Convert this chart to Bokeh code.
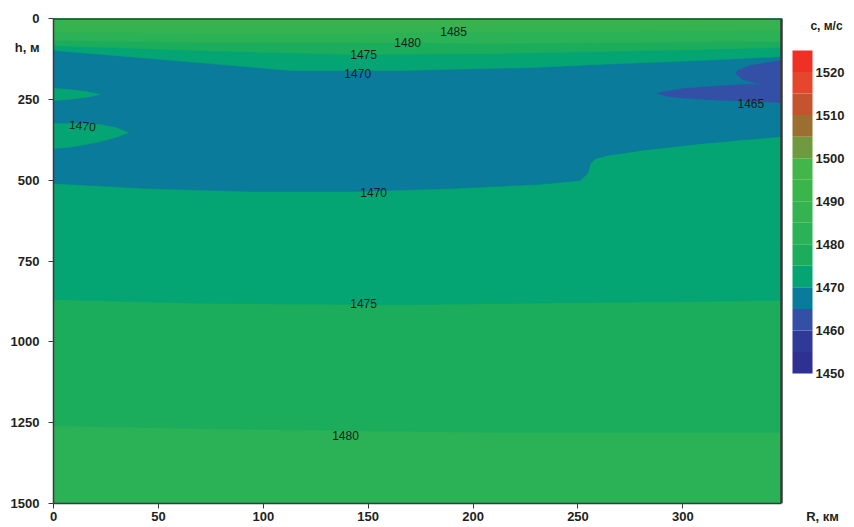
from bokeh.plotting import figure
from bokeh.models import Range1d, FixedTicker, Label, LinearAxis
from bokeh.core.properties import value
from bokeh.embed import file_html
from bokeh.resources import INLINE

# ---- colour scale (sound speed, m/s) ----
levels = [1450, 1455, 1460, 1465, 1470, 1475, 1480, 1485, 1490, 1495, 1500, 1505, 1510, 1515, 1520, 1525]
colors = ["#2e3192", "#2f3a98", "#3450a6", "#0a7b9a", "#05a573", "#1bad5c", "#2bb156", "#35b350",
          "#3bb54a", "#42b649", "#6e9b3f", "#9a6f2f", "#c5532e", "#e5472c", "#ee3124"]
cb_ticks = [1450, 1460, 1470, 1480, 1490, 1500, 1510, 1520]

# ---- isolines read from the section (range km, depth m) ----
r_iso_top = [0, 70, 142, 213, 285, 347]
h_iso1485_top = [43, 46, 46, 43, 40, 37]
h_iso1480_top = [68, 74, 74, 77, 74, 71]
h_iso1475_top = [84, 99, 111, 108, 99, 90]

r_iso1470_top = [0, 46, 113, 165, 227, 260, 308, 347]
h_iso1470_top = [99, 124, 161, 161, 152, 142, 130, 118]

r_iso1470_bot = [0, 46, 94, 142, 189, 232, 251, 254.6, 256, 258.5, 264, 280, 308.5, 347]
h_iso1470_bot = [510, 526, 535, 535, 526, 513, 501, 479, 448, 433, 424, 408, 387, 365]

r_iso1475_bot = [0, 70, 166, 261, 347]
h_iso1475_bot = [869, 881, 885, 878, 872]

r_iso1480_bot = [0, 70, 142, 213, 347]
h_iso1480_bot = [1259, 1268, 1274, 1280, 1280]

# intrusions of 1470-1475 water at the left edge
r_tongue1 = [0, 8.1, 15.3, 22.4, 15.3, 8.1, 0]
h_tongue1 = [216, 220, 226, 235, 244, 250, 254]
r_tongue2 = [0, 12.9, 22.4, 29.6, 35.8, 29.6, 21.0, 12.9, 6.7, 0]
h_tongue2 = [325, 325, 328, 337, 353, 368, 383, 393, 399, 402]

# 1460-1465 core at the right edge
r_core = [347, 332.4, 326.2, 325.2, 328.6, 334.8, 339.5, 330.0, 316.6, 300.4, 291.8, 288.0, 292.8,
          300.4, 313.3, 324.3, 347]
h_core = [130, 145, 161, 170, 189, 200, 203, 204, 209, 217, 226, 232, 241, 246, 251, 254, 260]

# contour labels (text, range km, depth m)
lab_text = ["1485", "1480", "1475", "1470", "1470", "1470", "1475", "1480", "1465"]
lab_r = [190.7, 168.8, 147.8, 145.0, 13.8, 152.6, 147.8, 139.2, 332.4]
lab_h = [40, 74, 111, 170, 331, 538, 881, 1290, 263]

x_ticks = [0, 50, 100, 150, 200, 250, 300]
y_ticks = [0, 250, 500, 750, 1000, 1250, 1500]
x_title = "R, км"
y_title = "h, м"
cb_title = "c, м/с"

R_MAX = 347
H_MAX = 1500

# ---- layout constants (screen geometry, canvas pixels) ----
FRAME_L, FRAME_T, FRAME_B = 53, 18, 503
PX_PER_KM = 728 / R_MAX
FRAME_W = 854 - FRAME_L - 2
X_END = FRAME_W / PX_PER_KM          # frame continues right of the section to hold the colour bar
CB_LEFT = (792 - FRAME_L) / PX_PER_KM
CB_RIGHT = (812 - FRAME_L) / PX_PER_KM
CB_LAB_X = (815 - FRAME_L) / PX_PER_KM
CB_TITLE_X = (826 - FRAME_L) / PX_PER_KM
X_TITLE_AT = (822 - FRAME_L) / PX_PER_KM
Y_TITLE_AT = 90
CB_PX_PER_UNIT = (373 - 50) / (levels[-1] - levels[0])
CB_TOP = levels[-1] + (50 - FRAME_T) / CB_PX_PER_UNIT
CB_BOT = levels[0] - (FRAME_B - 373) / CB_PX_PER_UNIT
CB_TITLE_Y = levels[-1] + (50 - 25) / CB_PX_PER_UNIT

FONT = "Liberation Sans"
INK = "#231f20"
LINE = "#3a3a3a"


def col(level):
    return colors[levels.index(level)]


p = figure(width=854, height=527, x_range=Range1d(0, X_END), y_range=Range1d(H_MAX, 0),
           output_backend="svg", toolbar_location=None,
           x_axis_location=None, y_axis_location=None,
           min_border_left=FRAME_L, min_border_right=2, min_border_top=FRAME_T,
           min_border_bottom=527 - FRAME_B)
p.grid.visible = False
p.outline_line_color = None
p.extra_y_ranges = {"cb": Range1d(CB_BOT, CB_TOP)}


def fill_above(rs, hs, level):
    xs = list(rs) + list(reversed(rs))
    ys = list(hs) + [0] * len(rs)
    p.patch(xs, ys, fill_color=col(level), line_color=col(level), line_width=0.5)


# painter's order: deepest first
p.patch([0, R_MAX, R_MAX, 0], [0, 0, H_MAX, H_MAX], fill_color=col(1480), line_color=None)
fill_above(r_iso1480_bot, h_iso1480_bot, 1475)
fill_above(r_iso1475_bot, h_iso1475_bot, 1470)
fill_above(r_iso1470_bot, h_iso1470_bot, 1465)
fill_above(r_iso1470_top, h_iso1470_top, 1470)
fill_above(r_iso_top, h_iso1475_top, 1475)
fill_above(r_iso_top, h_iso1480_top, 1480)
fill_above(r_iso_top, h_iso1485_top, 1485)

p.patch(r_tongue1, h_tongue1, fill_color=col(1470), line_color=col(1470), line_width=0.5)
p.patch(r_tongue2, h_tongue2, fill_color=col(1470), line_color=col(1470), line_width=0.5)
p.patch(r_core, h_core, fill_color=col(1460), line_color=col(1460), line_width=0.5)

# section frame (top and right edges)
p.line([0, R_MAX, R_MAX], [0, 0, H_MAX], line_color=LINE, line_width=2.5)

for t, x, y in zip(lab_text, lab_r, lab_h):
    ang = -0.1 if (x < 30) else 0.0
    p.add_layout(Label(x=x, y=y, text=t, text_align="center", text_baseline="middle",
                       text_font=FONT, text_font_size="12px", text_color="#1a1a1a", angle=ang))


# ---- axes: inner axis carries line + ticks, outer axis carries the labels ----
def style_labels(ax):
    ax.major_label_text_font = FONT
    ax.major_label_text_font_style = "bold"
    ax.major_label_text_font_size = "13px"
    ax.major_label_text_color = INK


y_in = LinearAxis(ticker=FixedTicker(ticks=y_ticks), axis_line_color=LINE, axis_line_width=1.5,
                  major_tick_line_color=LINE, major_tick_out=5, major_tick_in=0,
                  minor_tick_line_color=None, major_label_text_font_size="0px",
                  major_label_text_alpha=0, major_label_standoff=0)
y_out = LinearAxis(ticker=FixedTicker(ticks=[0, Y_TITLE_AT] + y_ticks[1:]),
                   major_label_overrides={Y_TITLE_AT: y_title},
                   axis_line_color=None, major_tick_line_color=None, minor_tick_line_color=None,
                   major_label_standoff=3)
style_labels(y_out)
p.add_layout(y_in, "left")
p.add_layout(y_out, "left")

x_in = LinearAxis(ticker=FixedTicker(ticks=x_ticks), bounds=(0, R_MAX), axis_line_color=LINE,
                  axis_line_width=1.5, major_tick_line_color=LINE, major_tick_out=5, major_tick_in=0,
                  minor_tick_line_color=None, major_label_text_font_size="0px",
                  major_label_text_alpha=0, major_label_standoff=0)
x_out = LinearAxis(ticker=FixedTicker(ticks=x_ticks + [X_TITLE_AT]),
                   major_label_overrides={X_TITLE_AT: x_title},
                   axis_line_color=None, major_tick_line_color=None, minor_tick_line_color=None,
                   major_label_standoff=-6)
style_labels(x_out)
p.add_layout(x_in, "below")
p.add_layout(x_out, "below")

# ---- colour bar (drawn on its own value range) ----
p.quad(left=CB_LEFT, right=CB_RIGHT, bottom=levels[:-1], top=levels[1:], fill_color=colors,
       line_color=None, y_range_name="cb")
p.text(x=[CB_LAB_X] * len(cb_ticks), y=cb_ticks, text=[str(v) for v in cb_ticks],
       text_align="left", text_baseline="middle", text_font=value(FONT), text_font_style="bold",
       text_font_size="13px", text_color=INK, y_range_name="cb")
p.text(x=[CB_TITLE_X], y=[CB_TITLE_Y], text=[cb_title], text_align="center",
       text_baseline="middle", text_font=value(FONT), text_font_style="bold",
       text_font_size="12px", text_color=INK, y_range_name="cb")

open("out.html", "w").write(file_html(p, INLINE))
